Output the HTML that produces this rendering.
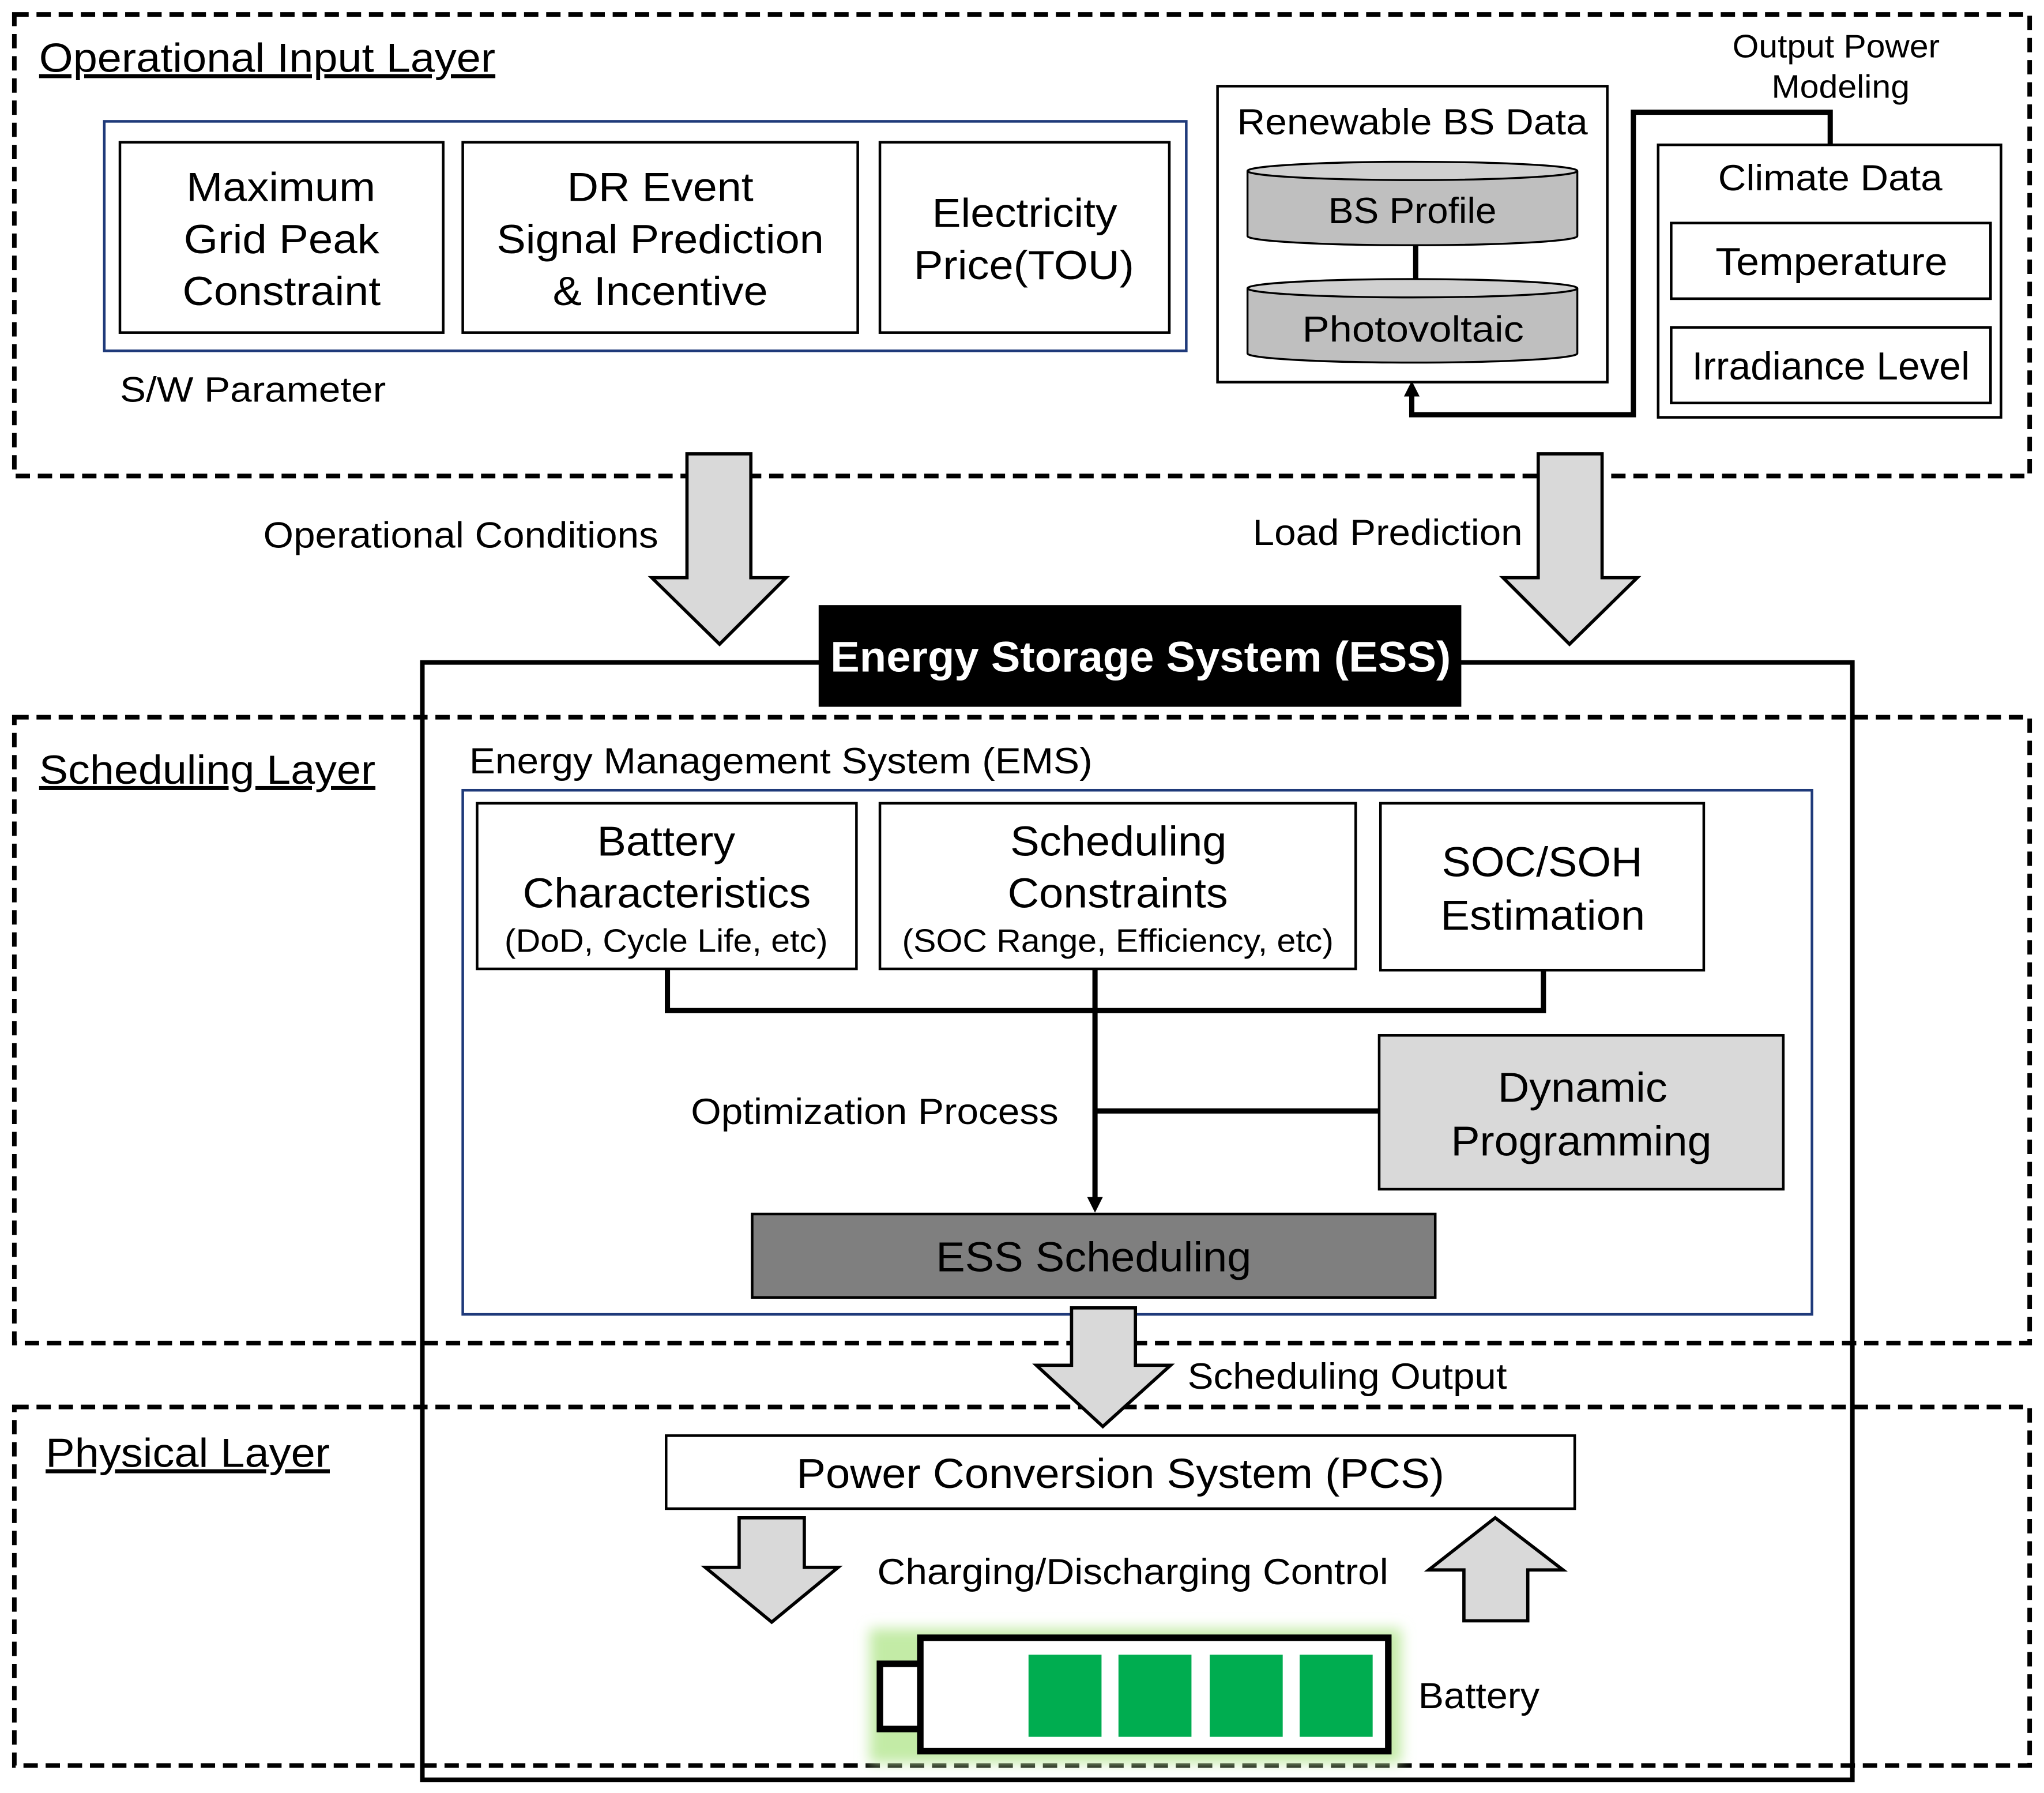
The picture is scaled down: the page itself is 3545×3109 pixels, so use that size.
<!DOCTYPE html>
<html><head><meta charset="utf-8"><style>html,body{margin:0;padding:0;background:#fff}svg{display:block}text{font-family:"Liberation Sans",Arial,sans-serif;fill:#000}</style></head>
<body>
<svg xmlns="http://www.w3.org/2000/svg" width="3545" height="3109" viewBox="0 0 1568 1375">
<defs>
<filter id="glow" x="-20%" y="-40%" width="140%" height="180%"><feGaussianBlur stdDeviation="5"/></filter>
</defs>
<g fill="none" stroke="#000" stroke-width="3.5" stroke-dasharray="11,6">
<rect x="11" y="11" width="1546" height="354"/>
<rect x="11" y="550" width="1546" height="480"/>
<rect x="11" y="1079" width="1546" height="275"/>
</g>
<g lengthAdjust="spacingAndGlyphs">
<text x="30" y="55" font-size="31" textLength="350" lengthAdjust="spacingAndGlyphs" text-decoration="underline">Operational Input Layer</text>
<text x="30" y="601" font-size="31" textLength="258" lengthAdjust="spacingAndGlyphs" text-decoration="underline">Scheduling Layer</text>
<text x="35" y="1125" font-size="31" textLength="218" lengthAdjust="spacingAndGlyphs" text-decoration="underline">Physical Layer</text>
</g>

<rect x="80" y="93" width="830" height="176" fill="none" stroke="#1f3a7a" stroke-width="2"/>
<g fill="#fff" stroke="#000" stroke-width="2">
<rect x="92" y="109" width="248" height="146"/>
<rect x="355" y="109" width="303" height="146"/>
<rect x="675" y="109" width="222" height="146"/>
</g>
<g font-size="31">
<text x="143" y="154" textLength="145" lengthAdjust="spacingAndGlyphs">Maximum</text>
<text x="141" y="194" textLength="150" lengthAdjust="spacingAndGlyphs">Grid Peak</text>
<text x="140" y="234" textLength="152" lengthAdjust="spacingAndGlyphs">Constraint</text>
<text x="435" y="154" textLength="143" lengthAdjust="spacingAndGlyphs">DR Event</text>
<text x="381" y="194" textLength="251" lengthAdjust="spacingAndGlyphs">Signal Prediction</text>
<text x="424" y="234" textLength="165" lengthAdjust="spacingAndGlyphs">&amp; Incentive</text>
<text x="715" y="174" textLength="142" lengthAdjust="spacingAndGlyphs">Electricity</text>
<text x="701" y="214" textLength="169" lengthAdjust="spacingAndGlyphs">Price(TOU)</text>
</g>
<text x="92" y="308" font-size="27" textLength="204" lengthAdjust="spacingAndGlyphs">S/W Parameter</text>

<rect x="934" y="66" width="299" height="227" fill="#fff" stroke="#000" stroke-width="2"/>
<text x="949" y="103" font-size="28" textLength="269" lengthAdjust="spacingAndGlyphs">Renewable BS Data</text>
<line x1="1086" y1="185" x2="1086" y2="216" stroke="#000" stroke-width="4"/>
<g stroke="#000" stroke-width="1.5" fill="#bfbfbf">
<path d="M957,131 L957,181 A126.5,7 0 0 0 1210,181 L1210,131"/>
<ellipse cx="1083.5" cy="131" rx="126.5" ry="7" fill="#d0d0d0"/>
<path d="M957,221 L957,271 A126.5,7 0 0 0 1210,271 L1210,221"/>
<ellipse cx="1083.5" cy="221" rx="126.5" ry="7" fill="#d0d0d0"/>
</g>
<text x="1019" y="171" font-size="28" textLength="129" lengthAdjust="spacingAndGlyphs">BS Profile</text>
<text x="999" y="262" font-size="28" textLength="170" lengthAdjust="spacingAndGlyphs">Photovoltaic</text>

<rect x="1272" y="111" width="263" height="209" fill="#fff" stroke="#000" stroke-width="2"/>
<text x="1318" y="146" font-size="28" textLength="172" lengthAdjust="spacingAndGlyphs">Climate Data</text>
<rect x="1282" y="171" width="245" height="58" fill="#fff" stroke="#000" stroke-width="2"/>
<text x="1316" y="211" font-size="30" textLength="178" lengthAdjust="spacingAndGlyphs">Temperature</text>
<rect x="1282" y="251" width="245" height="58" fill="#fff" stroke="#000" stroke-width="2"/>
<text x="1298" y="291" font-size="30" textLength="213" lengthAdjust="spacingAndGlyphs">Irradiance Level</text>
<polyline points="1404,111 1404,86 1253,86 1253,318 1083,318 1083,302" fill="none" stroke="#000" stroke-width="4"/>
<path d="M1077,304 L1083,292 L1089,304 z" fill="#000"/>
<text x="1329" y="44" font-size="25" textLength="159" lengthAdjust="spacingAndGlyphs">Output Power</text>
<text x="1359" y="75" font-size="25" textLength="106" lengthAdjust="spacingAndGlyphs">Modeling</text>

<g fill="#d9d9d9" stroke="#000" stroke-width="2.5">
<path d="M527,348 L576,348 L576,443 L603,443 L552,494 L500,443 L527,443 z"/>
<path d="M1180,348 L1229,348 L1229,443 L1256,443 L1204,494 L1153,443 L1180,443 z"/>
</g>
<text x="202" y="420" font-size="28" textLength="303" lengthAdjust="spacingAndGlyphs">Operational Conditions</text>
<text x="961" y="418" font-size="28" textLength="207" lengthAdjust="spacingAndGlyphs">Load Prediction</text>

<rect x="324" y="508" width="1097" height="857" fill="none" stroke="#000" stroke-width="3.5"/>
<rect x="628" y="464" width="493" height="78" fill="#000"/>
<text x="637" y="515" font-size="33" font-weight="bold" textLength="476" lengthAdjust="spacingAndGlyphs" style="fill:#fff">Energy Storage System (ESS)</text>

<text x="360" y="593" font-size="28" textLength="478" lengthAdjust="spacingAndGlyphs">Energy Management System (EMS)</text>
<rect x="355" y="606" width="1035" height="402" fill="none" stroke="#1f3a7a" stroke-width="2"/>
<g fill="#fff" stroke="#000" stroke-width="2">
<rect x="366" y="616" width="291" height="127"/>
<rect x="675" y="616" width="365" height="127"/>
<rect x="1059" y="616" width="248" height="128"/>
</g>
<text x="458" y="656" font-size="32" textLength="106" lengthAdjust="spacingAndGlyphs">Battery</text>
<text x="401" y="696" font-size="32" textLength="221" lengthAdjust="spacingAndGlyphs">Characteristics</text>
<text x="387" y="730" font-size="25" textLength="248" lengthAdjust="spacingAndGlyphs">(DoD, Cycle Life, etc)</text>
<text x="775" y="656" font-size="32" textLength="166" lengthAdjust="spacingAndGlyphs">Scheduling</text>
<text x="773" y="696" font-size="32" textLength="169" lengthAdjust="spacingAndGlyphs">Constraints</text>
<text x="692" y="730" font-size="25" textLength="331" lengthAdjust="spacingAndGlyphs">(SOC Range, Efficiency, etc)</text>
<text x="1106" y="672" font-size="32" textLength="154" lengthAdjust="spacingAndGlyphs">SOC/SOH</text>
<text x="1105" y="713" font-size="32" textLength="157" lengthAdjust="spacingAndGlyphs">Estimation</text>
<polyline points="512,743 512,775 1184,775 1184,744" fill="none" stroke="#000" stroke-width="4"/>
<line x1="840" y1="743" x2="840" y2="920" stroke="#000" stroke-width="4"/>
<path d="M834,918 L840,930 L846,918 z" fill="#000"/>
<line x1="840" y1="852" x2="1059" y2="852" stroke="#000" stroke-width="4"/>
<rect x="1058" y="794" width="310" height="118" fill="#d9d9d9" stroke="#000" stroke-width="2"/>
<text x="1149" y="845" font-size="32" textLength="130" lengthAdjust="spacingAndGlyphs">Dynamic</text>
<text x="1113" y="886" font-size="32" textLength="200" lengthAdjust="spacingAndGlyphs">Programming</text>
<text x="530" y="862" font-size="28" textLength="282" lengthAdjust="spacingAndGlyphs">Optimization Process</text>
<rect x="577" y="931" width="524" height="64" fill="#7f7f7f" stroke="#000" stroke-width="2"/>
<text x="718" y="975" font-size="32" textLength="242" lengthAdjust="spacingAndGlyphs">ESS Scheduling</text>

<path d="M822,1003 L871,1003 L871,1047 L898,1047 L846,1094 L795,1047 L822,1047 z" fill="#d9d9d9" stroke="#000" stroke-width="2.5"/>
<text x="911" y="1065" font-size="28" textLength="245" lengthAdjust="spacingAndGlyphs">Scheduling Output</text>

<rect x="511" y="1101" width="697" height="56" fill="#fff" stroke="#000" stroke-width="2"/>
<text x="611" y="1141" font-size="32" textLength="497" lengthAdjust="spacingAndGlyphs">Power Conversion System (PCS)</text>
<g fill="#d9d9d9" stroke="#000" stroke-width="2.5">
<path d="M567,1164 L617,1164 L617,1202 L643,1202 L592,1244 L541,1202 L567,1202 z"/>
<path d="M1147,1164 L1199,1204 L1172,1204 L1172,1243 L1123,1243 L1123,1204 L1096,1204 z"/>
</g>
<text x="673" y="1215" font-size="28" textLength="392" lengthAdjust="spacingAndGlyphs">Charging/Discharging Control</text>

<g filter="url(#glow)" fill="#c3eba6">
<rect x="667" y="1249" width="408" height="103"/>
</g>
<rect x="675" y="1276" width="31" height="50" fill="#fff" stroke="#000" stroke-width="5"/>
<rect x="706" y="1256" width="359" height="87" fill="#fff" stroke="#000" stroke-width="5"/>
<g fill="#00ad50">
<rect x="789" y="1269" width="56" height="63"/>
<rect x="858" y="1269" width="56" height="63"/>
<rect x="928" y="1269" width="56" height="63"/>
<rect x="997" y="1269" width="56" height="63"/>
</g>
<text x="1088" y="1310" font-size="28" textLength="93" lengthAdjust="spacingAndGlyphs">Battery</text>
</svg>
</body></html>
